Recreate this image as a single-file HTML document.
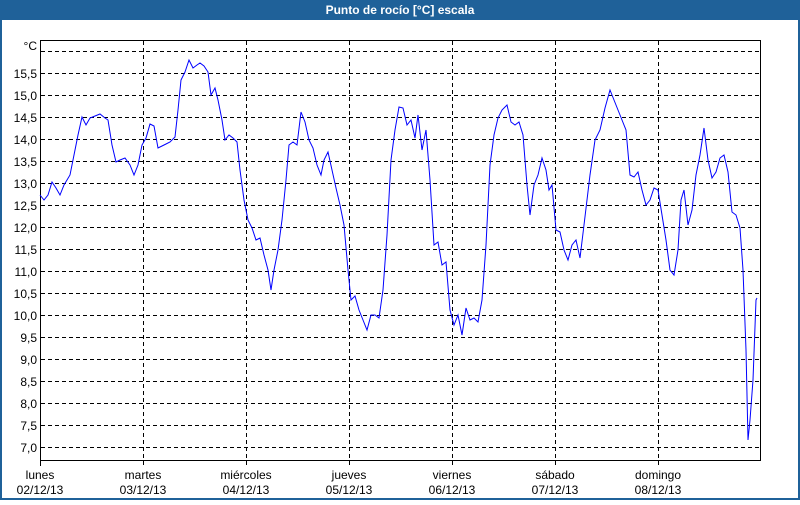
<!DOCTYPE html>
<html><head><meta charset="utf-8"><style>
body{margin:0;width:800px;height:500px;overflow:hidden;background:#fff;font-family:"Liberation Sans",Tahoma,sans-serif}
</style></head><body>
<svg width="800" height="500" xmlns="http://www.w3.org/2000/svg" font-family="Liberation Sans, sans-serif">
<rect x="0" y="0" width="800" height="500" fill="#1f6199"/>
<rect x="2" y="20" width="796" height="478" fill="#fff"/>
<text x="400" y="14" fill="#fff" font-size="12" font-weight="bold" text-anchor="middle">Punto de rocío [°C] escala</text>
<g stroke="#000" stroke-width="1" stroke-dasharray="4,3" fill="none">
<path d="M41 51.5H760M41 73.5H760M41 95.5H760M41 117.5H760M41 139.5H760M41 161.5H760M41 183.5H760M41 205.5H760M41 227.5H760M41 249.5H760M41 271.5H760M41 293.5H760M41 315.5H760M41 337.5H760M41 359.5H760M41 381.5H760M41 403.5H760M41 425.5H760M41 447.5H760"/>
<path d="M143.5 41V466M246.5 41V466M349.5 41V466M452.5 41V466M555.5 41V466M658.5 41V466"/>
</g>
<rect x="40.5" y="40.5" width="720" height="420" fill="none" stroke="#000"/>
<line x1="40.5" y1="461" x2="40.5" y2="466" stroke="#000"/>
<g font-size="12" fill="#000" text-anchor="end">
<text x="37" y="50">°C</text>
<text x="37" y="78">15,5</text><text x="37" y="100">15,0</text><text x="37" y="122">14,5</text><text x="37" y="144">14,0</text><text x="37" y="166">13,5</text><text x="37" y="188">13,0</text><text x="37" y="210">12,5</text><text x="37" y="232">12,0</text><text x="37" y="254">11,5</text><text x="37" y="276">11,0</text><text x="37" y="298">10,5</text><text x="37" y="320">10,0</text><text x="37" y="342">9,5</text><text x="37" y="364">9,0</text><text x="37" y="386">8,5</text><text x="37" y="408">8,0</text><text x="37" y="430">7,5</text><text x="37" y="452">7,0</text>
</g>
<g font-size="12" fill="#000" text-anchor="middle">
<text x="40" y="479">lunes</text><text x="40" y="494">02/12/13</text>
<text x="143" y="479">martes</text><text x="143" y="494">03/12/13</text>
<text x="246" y="479">miércoles</text><text x="246" y="494">04/12/13</text>
<text x="349" y="479">jueves</text><text x="349" y="494">05/12/13</text>
<text x="452" y="479">viernes</text><text x="452" y="494">06/12/13</text>
<text x="555" y="479">sábado</text><text x="555" y="494">07/12/13</text>
<text x="658" y="479">domingo</text><text x="658" y="494">08/12/13</text>
</g>
<polyline fill="none" stroke="#0000ff" stroke-width="1" points="40,195 44,200 48,195 52,182 56,188 60,195 64,185 70,175 74,155 78,135 82,117 86,125 90,118 95,116 100,114 105,118 108,120 112,145 116,162 120,160 125,158 130,165 134,175 138,165 142,145 146,138 150,124 154,126 158,148 162,146 166,144 170,142 175,137 178,110 181,80 185,72 189,60 193,68 197,65 200,63 204,66 208,72 211,95 215,88 218,100 222,120 225,140 229,135 233,138 237,142 240,170 244,200 248,220 252,228 256,240 260,238 264,255 268,270 271,290 274,270 278,250 282,220 286,180 289,145 293,142 297,145 301,112 305,122 309,140 313,148 317,165 321,175 324,160 328,152 332,170 336,188 340,205 344,225 348,270 351,300 355,296 359,310 363,320 367,330 371,315 375,315 379,318 383,290 387,235 391,160 395,130 399,107 403,108 407,125 411,120 415,138 418,115 422,150 426,130 430,180 434,245 438,242 442,265 446,262 450,310 454,325 458,315 462,335 466,308 470,320 474,318 478,322 482,300 486,245 490,165 494,135 498,118 502,110 507,105 511,122 515,125 519,122 523,135 527,185 530,215 534,185 538,175 542,158 546,170 549,190 552,185 556,230 560,232 564,250 568,260 572,245 576,240 580,258 584,225 590,175 595,140 600,130 605,108 610,90 614,100 618,110 622,120 626,130 630,175 634,177 638,172 642,190 646,205 650,200 654,188 658,190 662,215 666,240 670,270 674,275 678,250 681,200 684,190 688,225 692,210 696,175 700,155 704,128 708,160 712,178 716,172 720,158 724,155 728,172 732,212 736,215 740,228 743,270 746,350 748,440 750,420 753,380 756,300 757,298"/>
</svg>
</body></html>
